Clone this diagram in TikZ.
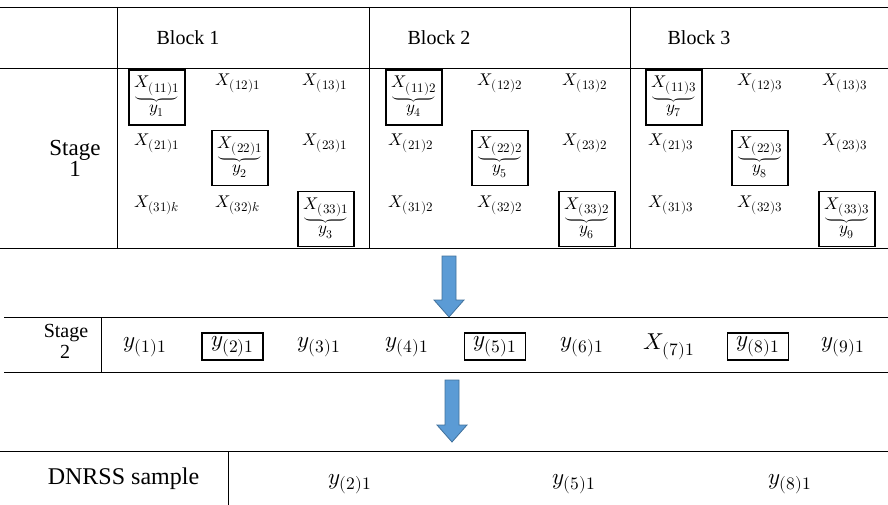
\documentclass[tikz,border=0pt]{standalone}
\usepackage{fontspec}
\usepackage{unicode-math}
\setmainfont{Liberation Serif}
\setmathfont{Latin Modern Math}
% subscripts set at an explicit, fairly large size
\newcommand\Xs[1]{X_{\hbox{\fontsize{13}{13}\selectfont$#1$}}}
\newcommand\Ys[2]{#1_{\hbox{\fontsize{17.5}{17.5}\selectfont$#2$}}}
\newcommand\picked[2]{$\underbrace{\Xs{#1}}_{\textstyle y_{#2}}$}
\begin{document}
\begin{tikzpicture}[x=1pt,y=-1pt,
  rule/.style={line width=0.9pt},
  pick/.style={draw,line width=1.9pt,inner sep=0pt,minimum width=56pt,minimum height=55pt,font=\fontsize{17}{19}\selectfont},
  cell/.style={inner sep=0pt,font=\fontsize{17}{19}\selectfont},
  pickb/.style={draw,line width=1.9pt,inner sep=0pt,minimum width=61pt,minimum height=27pt,font=\fontsize{23}{25}\selectfont},
  cellb/.style={inner sep=0pt,font=\fontsize{23}{25}\selectfont},
  head/.style={inner sep=0pt,anchor=base,font=\fontsize{20}{22}\selectfont},
  flow/.style={fill={rgb,255:red,91;green,155;blue,213},draw={rgb,255:red,65;green,113;blue,156},line width=0.8pt}]
\useasboundingbox (0,0) rectangle (888,505);

% ---------- Stage 1 table ----------
\draw[rule] (0,7) -- (888,7);
\draw[rule] (0,68) -- (888,68);
\draw[rule] (0,248) -- (888,248);
\foreach \xx in {117,369,630} \draw[rule] (\xx,7) -- (\xx,248);

\node[head] (b1) at (188,45) {Block 1};
\node[head] (b2) at (439,45) {Block 2};
\node[head] (b3) at (699,45) {Block 3};
\node[head,font=\fontsize{23}{25}\selectfont] (s1a) at (75,156) {Stage};
\node[head,font=\fontsize{23}{25}\selectfont] (s1b) at (75,177) {1};

% Block 1
\node[pick] (p1) at (157,97.5) {\picked{(11)1}{1}};
\node[cell] (x121) at (238,83) {$\Xs{(12)1}$};
\node[cell] (x131) at (325,83) {$\Xs{(13)1}$};
\node[cell] (x211) at (157,143) {$\Xs{(21)1}$};
\node[pick] (p2) at (240,158) {\picked{(22)1}{2}};
\node[cell] (x231) at (325,143) {$\Xs{(23)1}$};
\node[cell] (x31k) at (157,205) {$\Xs{(31)k}$};
\node[cell] (x32k) at (238,205) {$\Xs{(32)k}$};
\node[pick] (p3) at (326,219) {\picked{(33)1}{3}};

% Block 2
\node[pick] (p4) at (414,97.5) {\picked{(11)2}{4}};
\node[cell] (x122) at (500,83) {$\Xs{(12)2}$};
\node[cell] (x132) at (585,83) {$\Xs{(13)2}$};
\node[cell] (x212) at (411,143) {$\Xs{(21)2}$};
\node[pick] (p5) at (500,158) {\picked{(22)2}{5}};
\node[cell] (x232) at (585,143) {$\Xs{(23)2}$};
\node[cell] (x312) at (411,205) {$\Xs{(31)2}$};
\node[cell] (x322) at (500,205) {$\Xs{(32)2}$};
\node[pick] (p6) at (587,219) {\picked{(33)2}{6}};

% Block 3
\node[pick] (p7) at (674,97.5) {\picked{(11)3}{7}};
\node[cell] (x123) at (760,83) {$\Xs{(12)3}$};
\node[cell] (x133) at (845,83) {$\Xs{(13)3}$};
\node[cell] (x213) at (671,143) {$\Xs{(21)3}$};
\node[pick] (p8) at (760,158) {\picked{(22)3}{8}};
\node[cell] (x233) at (845,143) {$\Xs{(23)3}$};
\node[cell] (x313) at (671,205) {$\Xs{(31)3}$};
\node[cell] (x323) at (760,205) {$\Xs{(32)3}$};
\node[pick] (p9) at (847,219) {\picked{(33)3}{9}};

% ---------- arrow to stage 2 ----------
\draw[flow] (442,256) -- (456,256) -- (456,300) -- (464,300) -- (449,317)
  -- (434,300) -- (442,300) -- cycle;

% ---------- Stage 2 row ----------
\draw[rule] (4,317) -- (888,317);
\draw[rule] (4,372) -- (888,372);
\draw[rule] (101,317) -- (101,372);
\node[head] (s2a) at (66,337) {Stage};
\node[head] (s2b) at (65,358) {2};

\node[cellb] (q1) at (145,347) {$\Ys{y}{(1)1}$};
\node[pickb] (q2) at (232.5,346.5) {$\Ys{y}{(2)1}$};
\node[cellb] (q3) at (319,347) {$\Ys{y}{(3)1}$};
\node[cellb] (q4) at (407,347) {$\Ys{y}{(4)1}$};
\node[pickb] (q5) at (495,346.5) {$\Ys{y}{(5)1}$};
\node[cellb] (q6) at (582,347) {$\Ys{y}{(6)1}$};
\node[cellb] (q7) at (669,347) {$\Ys{X}{(7)1}$};
\node[pickb] (q8) at (758,346.5) {$\Ys{y}{(8)1}$};
\node[cellb] (q9) at (843,347) {$\Ys{y}{(9)1}$};

% ---------- arrow to the final sample ----------
\draw[flow] (445,380) -- (459,380) -- (459,425) -- (467,425) -- (452,442)
  -- (437,425) -- (445,425) -- cycle;

% ---------- DNRSS sample row ----------
\draw[rule] (0,451) -- (888,451);
\draw[rule] (228,451) -- (228,505);
\node[head,font=\fontsize{24}{26}\selectfont] (ds) at (123.5,484) {DNRSS sample};
\node[cellb] (d1) at (350,484) {$\Ys{y}{(2)1}$};
\node[cellb] (d2) at (574,484) {$\Ys{y}{(5)1}$};
\node[cellb] (d3) at (790,484) {$\Ys{y}{(8)1}$};
\end{tikzpicture}
\end{document}
